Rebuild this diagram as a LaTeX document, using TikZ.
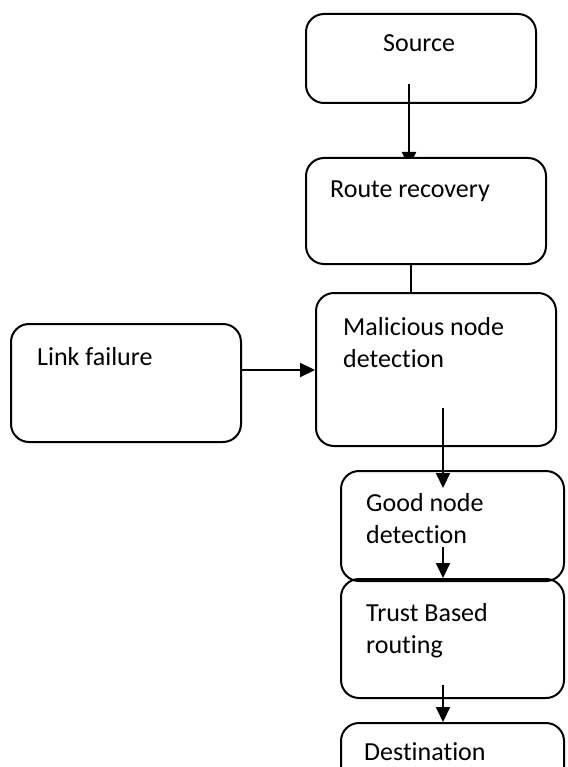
\documentclass[tikz,border=0pt]{standalone}
\usepackage{fontspec}
\setmainfont{Carlito}[Ligatures=NoCommon]
\usetikzlibrary{arrows.meta,backgrounds}
\begin{document}
\begin{tikzpicture}[x=1pt,y=-1pt,
  box/.style={draw=black, line width=2pt, rounded corners=18pt, inner sep=0pt, anchor=north west},
  lbl/.style={inner sep=0pt, anchor=base west, align=left, font=\fontsize{26}{31.5}\selectfont},
  arr/.style={line width=2pt, -{Triangle[width=14pt,length=15pt]}},
  conn/.style={line width=2pt}]
\useasboundingbox (0,0) rectangle (567,767);
\clip (0,0) rectangle (567,767);
% boxes
\node[box, minimum width=230pt, minimum height=89pt] (src) at (305,13) {};
\node[box, fill=white, minimum width=240pt, minimum height=106pt] (route) at (305,157) {};
\node[box, minimum width=240pt, minimum height=153pt] (mal) at (315,292) {};
\node[box, minimum width=230pt, minimum height=118pt] (link) at (10,323) {};
\node[box, minimum width=223pt, minimum height=110pt] (good) at (340,470) {};
\node[box, minimum width=223pt, minimum height=119pt] (trust) at (340,578) {};
\node[box, minimum width=223pt, minimum height=90pt] (dest) at (340,722) {};
% labels (multi-line nodes placed at the baseline of their last line)
\node[lbl] (srct) at (383,52) {Source};
\node[lbl] (routet) at (330,197) {Route recovery};
\node[lbl] (malt) at (343,367) {Malicious node\\detection};
\node[lbl] (linkt) at (37,365) {Link failure};
\node[lbl] (goodt) at (366,543) {Good node\\detection};
\node[lbl] (trustt) at (366,653) {Trust Based\\routing};
\node[lbl] (destt) at (364,760) {Destination};
% connectors
\coordinate (a1) at (409,84);
\begin{scope}[on background layer]
\draw[arr, shorten >=-10pt] (a1) -- (a1 |- route.north);
\end{scope}
\coordinate (l2) at (411,270);
\draw[conn] (l2 |- route.south) -- (l2 |- mal.north);
\coordinate (a3) at (240,370);
\draw[arr] (a3) -- (a3 -| mal.west);
\coordinate (a4) at (443,408);
\draw[arr, shorten >=-18pt] (a4) -- (a4 |- good.north);
\coordinate (a5) at (443,547);
\draw[arr] (a5) -- (a5 |- trust.north);
\coordinate (a6) at (443,685);
\draw[arr] (a6) -- (a6 |- dest.north);
\end{tikzpicture}
\end{document}
